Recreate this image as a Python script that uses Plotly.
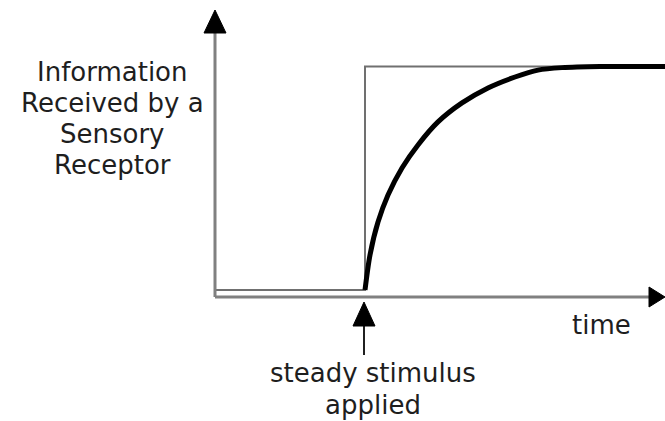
import plotly.graph_objects as go

# Data (time in arbitrary units, response normalised 0..1)
step_t = [0.0, 3.0, 3.0, 9.0]
step_y = [0.0, 0.0, 1.0, 1.0]

resp_t = [3.0, 3.1, 3.26, 3.46, 3.74, 4.06, 4.46, 4.94, 5.46, 6.0, 6.46, 6.94, 7.7, 9.0]
resp_y = [0.0, 0.157, 0.304, 0.425, 0.546, 0.649, 0.752, 0.837, 0.904, 0.953, 0.984, 0.995, 1.0, 1.0]

y_label_lines = ["Information", "Received by a", "Sensory", "Receptor"]
x_label = "time"
stim_label_lines = ["steady stimulus", "applied"]
stim_t = 3.0

# coordinate helpers (data units): 50 px per time unit, 223.5 px per response unit
PX_T = 50.0
PX_Y = 223.5
X_MIN, X_MAX = -215 / PX_T, 450 / PX_T
Y_MIN, Y_MAX = -131 / PX_Y, 290 / PX_Y
AXIS_Y = -7 / PX_Y  # x-axis line position

FONT = "DejaVu Sans"
TXT = "#1e1e1e"
FS = 26

fig = go.Figure()
fig.add_trace(go.Scatter(x=step_t, y=step_y, mode="lines",
                         line=dict(color="#707070", width=2), hoverinfo="skip"))
fig.add_trace(go.Scatter(x=resp_t, y=resp_y, mode="lines",
                         line=dict(color="#000000", width=5, shape="spline", smoothing=0.8),
                         hoverinfo="skip"))

shapes = []
# y axis
shapes.append(dict(type="line", x0=0, x1=0, y0=AXIS_Y, y1=(290 - 25) / PX_Y,
                   line=dict(color="#808080", width=3)))
# y axis arrowhead
tip = (290 - 10) / PX_Y
base = (290 - 33) / PX_Y
hw = 11 / PX_T
shapes.append(dict(type="path", path=f"M {-hw} {base} L 0 {tip} L {hw} {base} Z",
                   fillcolor="black", line=dict(color="black", width=1)))
# x axis
shapes.append(dict(type="line", x0=0, x1=(650 - 215) / PX_T + 0.1, y0=AXIS_Y, y1=AXIS_Y,
                   line=dict(color="#808080", width=3)))
# x arrowhead
xt = (665 - 215) / PX_T
xb = (649 - 215) / PX_T
hh = 10 / PX_Y
shapes.append(dict(type="path", path=f"M {xb} {AXIS_Y - hh} L {xt} {AXIS_Y} L {xb} {AXIS_Y + hh} Z",
                   fillcolor="black", line=dict(color="black", width=1)))
# stimulus arrow
s_tip = (290 - 302) / PX_Y
s_base = (290 - 326) / PX_Y
s_end = (290 - 355) / PX_Y
shw = 11 / PX_T
sx = stim_t - 0.02
shapes.append(dict(type="line", x0=sx, x1=sx, y0=s_base + 0.01, y1=s_end,
                   line=dict(color="#202020", width=2)))
shapes.append(dict(type="path",
                   path=f"M {sx - shw} {s_base} L {sx} {s_tip} L {sx + shw} {s_base} Z",
                   fillcolor="black", line=dict(color="black", width=1)))

annotations = []
for i, line in enumerate(y_label_lines):
    py = 72 + i * 31
    annotations.append(dict(x=(112 - 215) / PX_T, y=(290 - py) / PX_Y, text=line, showarrow=False,
                            xanchor="center", yanchor="middle",
                            font=dict(family=FONT, size=FS, color=TXT)))
annotations.append(dict(x=(601 - 215) / PX_T, y=(290 - 325) / PX_Y, text=x_label, showarrow=False,
                        xanchor="center", yanchor="middle",
                        font=dict(family=FONT, size=FS, color=TXT)))
for i, line in enumerate(stim_label_lines):
    py = 373 + i * 32
    annotations.append(dict(x=(373 - 215) / PX_T, y=(290 - py) / PX_Y, text=line, showarrow=False,
                            xanchor="center", yanchor="middle",
                            font=dict(family=FONT, size=FS, color=TXT)))

fig.update_layout(
    width=665, height=421,
    margin=dict(l=0, r=0, t=0, b=0),
    paper_bgcolor="white", plot_bgcolor="white",
    showlegend=False,
    xaxis=dict(range=[X_MIN, X_MAX], visible=False, fixedrange=True),
    yaxis=dict(range=[Y_MIN, Y_MAX], visible=False, fixedrange=True),
    shapes=shapes,
    annotations=annotations,
)

fig.write_html("out.html", config={"displayModeBar": False},
               post_script="document.body.style.margin='0';document.body.style.overflow='hidden';")
